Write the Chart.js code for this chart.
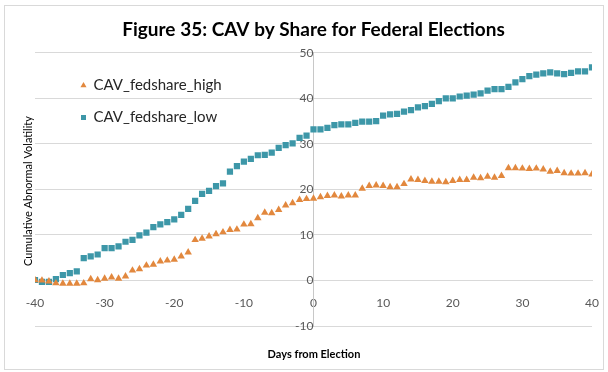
<!DOCTYPE html>
<html>
<head>
<meta charset="utf-8">
<script src="https://cdn.jsdelivr.net/npm/chart.js@4/dist/chart.umd.min.js"></script>
<style>
    html, body { margin: 0; padding: 0; background: #fff; }
    #wrap { width: 608px; height: 372px; }
</style>
</head>
<body>
<div id="wrap"><canvas id="cavChart" width="608" height="372"></canvas></div>
<script>
// days from election, -40 .. 40
const days = [
    -40, -39, -38, -37, -36, -35, -34, -33, -32, -31, -30, -29, -28, -27, -26, -25, -24, -23, -22, -21,
    -20, -19, -18, -17, -16, -15, -14, -13, -12, -11, -10, -9, -8, -7, -6, -5, -4, -3, -2, -1,
    0, 1, 2, 3, 4, 5, 6, 7, 8, 9, 10, 11, 12, 13, 14, 15, 16, 17, 18, 19,
    20, 21, 22, 23, 24, 25, 26, 27, 28, 29, 30, 31, 32, 33, 34, 35, 36, 37, 38, 39, 40
];

const cavHigh = [
    0.1, 0.0, -0.2, -0.6, -0.7, -0.7, -0.7, -0.6, 0.3, 0.1, 0.4, 0.7, 0.4, 0.9, 2.2, 2.5, 3.3, 3.5, 4.2, 4.4,
    4.6, 5.3, 6.2, 8.9, 9.2, 9.7, 10.2, 10.6, 11.1, 11.2, 12.3, 12.4, 13.7, 14.9, 14.8, 15.5, 16.5, 17.0, 17.7, 17.9,
    18.0, 18.3, 18.6, 18.7, 18.5, 18.7, 18.7, 20.2, 20.8, 20.9, 20.8, 20.5, 20.5, 21.2, 22.2, 22.1, 21.9, 21.7, 21.7, 21.6,
    21.9, 22.1, 22.1, 22.6, 22.5, 22.8, 22.6, 23.0, 24.7, 24.7, 24.6, 24.5, 24.6, 24.4, 23.9, 24.1, 23.6, 23.5, 23.5, 23.6, 23.3
];

const cavLow = [
    0.1, -0.3, -0.3, 0.3, 1.2, 1.6, 2.0, 4.9, 5.3, 5.7, 7.1, 7.1, 7.5, 8.5, 8.9, 9.9, 10.5, 11.7, 12.3, 12.8,
    13.4, 14.4, 15.7, 17.5, 19.0, 19.7, 20.7, 21.3, 23.9, 25.1, 26.1, 26.7, 27.5, 27.6, 28.1, 29.1, 29.7, 30.1, 31.3, 31.8,
    33.2, 33.2, 33.5, 34.1, 34.3, 34.3, 34.6, 34.9, 34.9, 35.0, 36.2, 36.5, 36.6, 37.1, 37.4, 38.0, 38.3, 38.8, 39.4, 40.0,
    40.0, 40.4, 40.6, 40.8, 41.1, 41.7, 42.0, 42.0, 42.5, 43.5, 44.2, 44.9, 45.2, 45.5, 45.7, 45.5, 45.3, 45.6, 45.9, 45.9, 46.8
];

const seriesNames = ['CAV_fedshare_high', 'CAV_fedshare_low'];
const yTicks = [-10, 0, 10, 20, 30, 40, 50];
const xTicks = [-40, -30, -20, -10, 0, 10, 20, 30, 40];

const FONT = 'Lato, "Open Sans", sans-serif';

function toPoints(values) {
    return days.map((d, i) => ({ x: d, y: values[i] }));
}

// frame, axis titles and legend placement
const decorPlugin = {
    id: 'decor',
    afterLayout(chart) {
        const lg = chart.legend;
        if (lg) {
            const h = lg.height;
            lg.left = 64;
            lg.top = 61;
            lg.right = lg.left + lg.width;
            lg.bottom = lg.top + Math.max(h, 80);
        }
    },
    beforeDraw(chart) {
        const ctx = chart.ctx;
        ctx.save();
        ctx.strokeStyle = '#d9d9d9';
        ctx.lineWidth = 1;
        ctx.strokeRect(4.5, 5.5, 599, 364);
        ctx.restore();
    },
    afterDraw(chart) {
        const ctx = chart.ctx;
        ctx.save();
        ctx.fillStyle = '#000';
        ctx.textAlign = 'center';
        ctx.textBaseline = 'middle';
        ctx.font = 'bold 11px ' + FONT;
        ctx.fillText('Days from Election', 314, 354);
        ctx.translate(28, 191);
        ctx.rotate(-Math.PI / 2);
        ctx.font = '11px ' + FONT;
        ctx.fillText('Cumulative Abnormal Volatility', 0, 0);
        ctx.restore();
    }
};

const ctx = document.getElementById('cavChart').getContext('2d');
new Chart(ctx, {
    type: 'scatter',
    data: {
        datasets: [{
            label: seriesNames[0],
            data: toPoints(cavHigh),
            pointStyle: 'triangle',
            pointRadius: 4.3,
            backgroundColor: '#e2883e',
            borderColor: '#e2883e',
            borderWidth: 0
        }, {
            label: seriesNames[1],
            data: toPoints(cavLow),
            pointStyle: 'rect',
            pointRadius: 4.4,
            backgroundColor: '#3d97a8',
            borderColor: '#3d97a8',
            borderWidth: 0
        }]
    },
    options: {
        responsive: false,
        animation: false,
        layout: {
            padding: { left: 35, right: 16, top: 0, bottom: 46 }
        },
        plugins: {
            title: {
                display: true,
                text: 'Figure 35: CAV by Share for Federal Elections',
                color: '#000',
                font: { size: 19, weight: 'bold', family: FONT },
                padding: { top: 18, bottom: 12 }
            },
            legend: {
                display: true,
                position: 'chartArea',
                align: 'start',
                labels: {
                    usePointStyle: true,
                    boxWidth: 5,
                    boxHeight: 5,
                    padding: 17,
                    color: '#262626',
                    font: { size: 15, family: FONT }
                }
            },
            tooltip: { enabled: false }
        },
        scales: {
            x: {
                type: 'linear',
                min: -40,
                max: 40,
                position: { y: 0 },
                afterBuildTicks: axis => { axis.ticks = xTicks.map(v => ({ value: v })); },
                grid: { display: false },
                border: { display: true, color: '#d9d9d9' },
                ticks: {
                    padding: 7,
                    color: '#595959',
                    font: { size: 12, family: FONT }
                }
            },
            y: {
                type: 'linear',
                min: -10,
                max: 50,
                position: { x: 0 },
                afterBuildTicks: axis => { axis.ticks = yTicks.map(v => ({ value: v })); },
                grid: { color: '#d9d9d9', drawTicks: false },
                border: { display: true, color: '#c8c8c8' },
                ticks: {
                    padding: 11,
                    color: '#595959',
                    font: { size: 12, family: FONT }
                }
            }
        }
    },
    plugins: [decorPlugin]
});
</script>
</body>
</html>
